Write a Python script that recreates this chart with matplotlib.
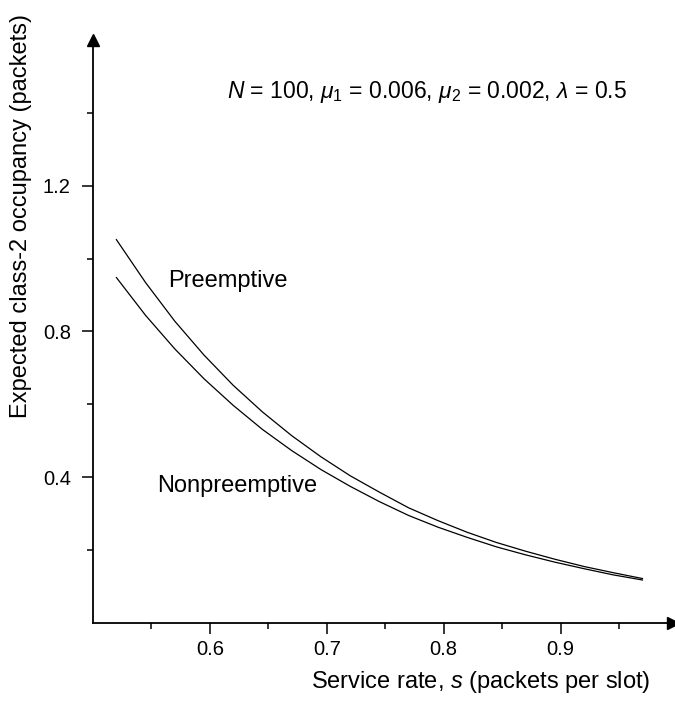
import matplotlib
matplotlib.use("Agg")
import matplotlib.pyplot as plt
from matplotlib.ticker import FixedLocator

plt.rcParams['font.family'] = ['Liberation Sans', 'DejaVu Sans']
plt.rcParams['mathtext.fontset'] = 'custom'
plt.rcParams['mathtext.rm'] = 'Liberation Sans'
plt.rcParams['mathtext.it'] = 'Liberation Sans:italic'

# service rate s (packets per slot)
tasa = [0.52, 0.545, 0.57, 0.595, 0.62, 0.645, 0.67, 0.695, 0.72, 0.745,
        0.77, 0.795, 0.82, 0.845, 0.87, 0.895, 0.92, 0.945, 0.97]
# expected class-2 occupancy (packets)
preemptiva = [1.052, 0.934, 0.828, 0.735, 0.652, 0.579, 0.514, 0.456, 0.404, 0.359,
              0.316, 0.281, 0.249, 0.221, 0.197, 0.175, 0.155, 0.138, 0.122]
no_preemptiva = [0.948, 0.844, 0.752, 0.670, 0.597, 0.531, 0.473, 0.421, 0.375, 0.333,
                 0.295, 0.263, 0.235, 0.209, 0.187, 0.167, 0.149, 0.132, 0.118]

xticks = [0.6, 0.7, 0.8, 0.9]
xticks_menores = [0.55, 0.65, 0.75, 0.85, 0.95]
yticks = [0.4, 0.8, 1.2]
yticks_menores = [0.2, 0.6, 1.0, 1.4]

fig = plt.figure(figsize=(6.75, 7.01), dpi=100)
ax = fig.add_axes([0.1378, 0.1113, 0.859, 0.8317])

ax.plot(tasa, preemptiva, color='black', linewidth=0.9)
ax.plot(tasa, no_preemptiva, color='black', linewidth=0.9)

ax.set_xlim(0.5, 0.996)
ax.set_ylim(0, 1.6)

for lado in ['top', 'right']:
    ax.spines[lado].set_visible(False)
for lado in ['left', 'bottom']:
    ax.spines[lado].set_linewidth(1.3)

# flechas de los ejes
ax.plot(1, 0, marker='>', color='black', markersize=9, transform=ax.transAxes, clip_on=False)
ax.plot(0, 1, marker='^', color='black', markersize=9, transform=ax.transAxes, clip_on=False)

ax.set_xticks(xticks)
ax.set_xticklabels(['0.6', '0.7', '0.8', '0.9'])
ax.set_yticks(yticks)
ax.set_yticklabels(['0.4', '0.8', '1.2'])
ax.xaxis.set_minor_locator(FixedLocator(xticks_menores))
ax.yaxis.set_minor_locator(FixedLocator(yticks_menores))
ax.tick_params(which='major', direction='out', length=8, width=1.1, labelsize=14.5)
ax.tick_params(axis='x', which='major', pad=4)
ax.tick_params(axis='y', which='major', pad=8)
ax.tick_params(which='minor', direction='out', length=4, width=1.1)

fig.text(0.040, 0.4037, 'Expected class-2 occupancy (packets)', rotation=90,
         rotation_mode='anchor', ha='left', va='baseline', fontsize=17)
fig.text(0.963, 0.0185, 'Service rate, $s$ (packets per slot)', ha='right', va='baseline',
         fontsize=17)

ax.text(0.564, 0.923, 'Preemptive', fontsize=17)
ax.text(0.5547, 0.359, 'Nonpreemptive', fontsize=17)
ax.text(0.615, 1.441, r'$\it{N}$ = 100, $\mu_1$ = 0.006, $\mu_2$ = 0.002, $\lambda$ = 0.5',
        fontsize=16.5)

fig.savefig('out.png', dpi=100)
